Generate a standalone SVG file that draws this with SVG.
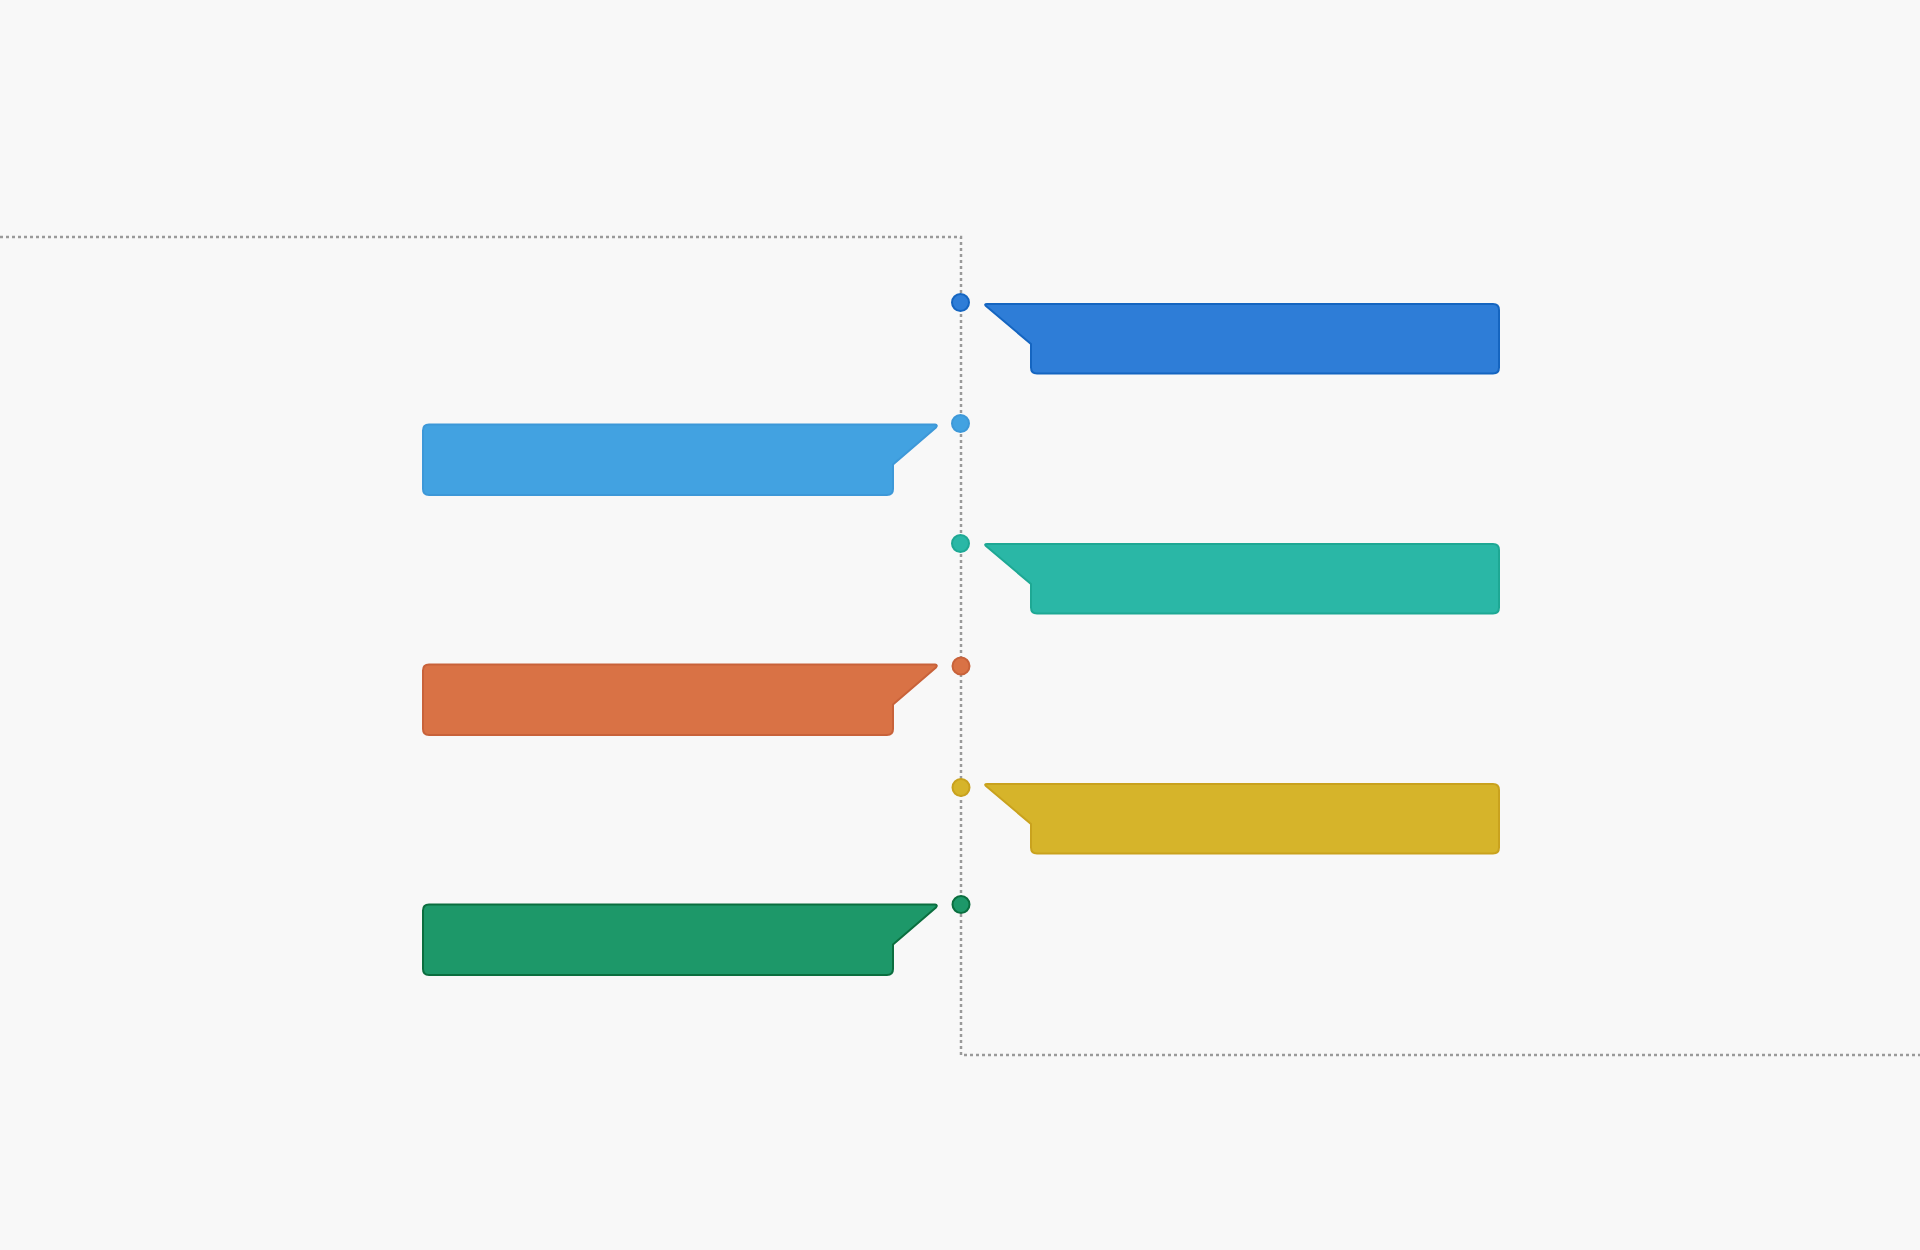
<svg xmlns="http://www.w3.org/2000/svg" width="1920" height="1250" viewBox="0 0 1920 1250">
<style>
.bg{fill:#f8f8f8}
.guide{fill:none;stroke:#9a9a9a;stroke-width:2.5;stroke-dasharray:3 3}
.box{stroke-width:2;stroke-linejoin:round}
.dot{stroke-width:2}
.c1{fill:#2e7dd7;stroke:#1565c0}
.c2{fill:#42a2e1;stroke:#3d98d8}
.c3{fill:#2ab7a6;stroke:#1ea894}
.c4{fill:#d97245;stroke:#c8623a}
.c5{fill:#d6b42a;stroke:#c9a21e}
.c6{fill:#1d9869;stroke:#0b6e3f}
</style>
<defs>
<path id="rshape" d="M987 0 L1493 0 Q1499 0 1499 6 L1499 63.5 Q1499 69.5 1493 69.5 L1037 69.5 Q1031 69.5 1031 63.5 L1031 40 L986 2 Q984 0 987 0 Z"/>
<path id="lshape" d="M935 0 L429 0 Q423 0 423 6 L423 64.5 Q423 70.5 429 70.5 L887 70.5 Q893 70.5 893 64.5 L893 40 L936 3 Q938 0.5 935 0 Z"/>
</defs>
<rect class="bg" x="0" y="0" width="1920" height="1250"/>
<g id="connectors">
<path class="guide" d="M0 237 L961 237 L961 1055 L1920 1055"/>
</g>
<g id="node1">
<use href="#rshape" class="box c1" transform="translate(0 304)"/>
<circle class="dot c1" cx="960.5" cy="302.5" r="8.5"/>
</g>
<g id="node2">
<use href="#lshape" class="box c2" transform="translate(0 424.5)"/>
<circle class="dot c2" cx="960.5" cy="423.5" r="8.5"/>
</g>
<g id="node3">
<use href="#rshape" class="box c3" transform="translate(0 544)"/>
<circle class="dot c3" cx="960.5" cy="543.5" r="8.5"/>
</g>
<g id="node4">
<use href="#lshape" class="box c4" transform="translate(0 664.5)"/>
<circle class="dot c4" cx="961" cy="666" r="8.5"/>
</g>
<g id="node5">
<use href="#rshape" class="box c5" transform="translate(0 784)"/>
<circle class="dot c5" cx="961" cy="787.5" r="8.5"/>
</g>
<g id="node6">
<use href="#lshape" class="box c6" transform="translate(0 904.5)"/>
<circle class="dot c6" cx="961" cy="904.5" r="8.5"/>
</g>
</svg>
